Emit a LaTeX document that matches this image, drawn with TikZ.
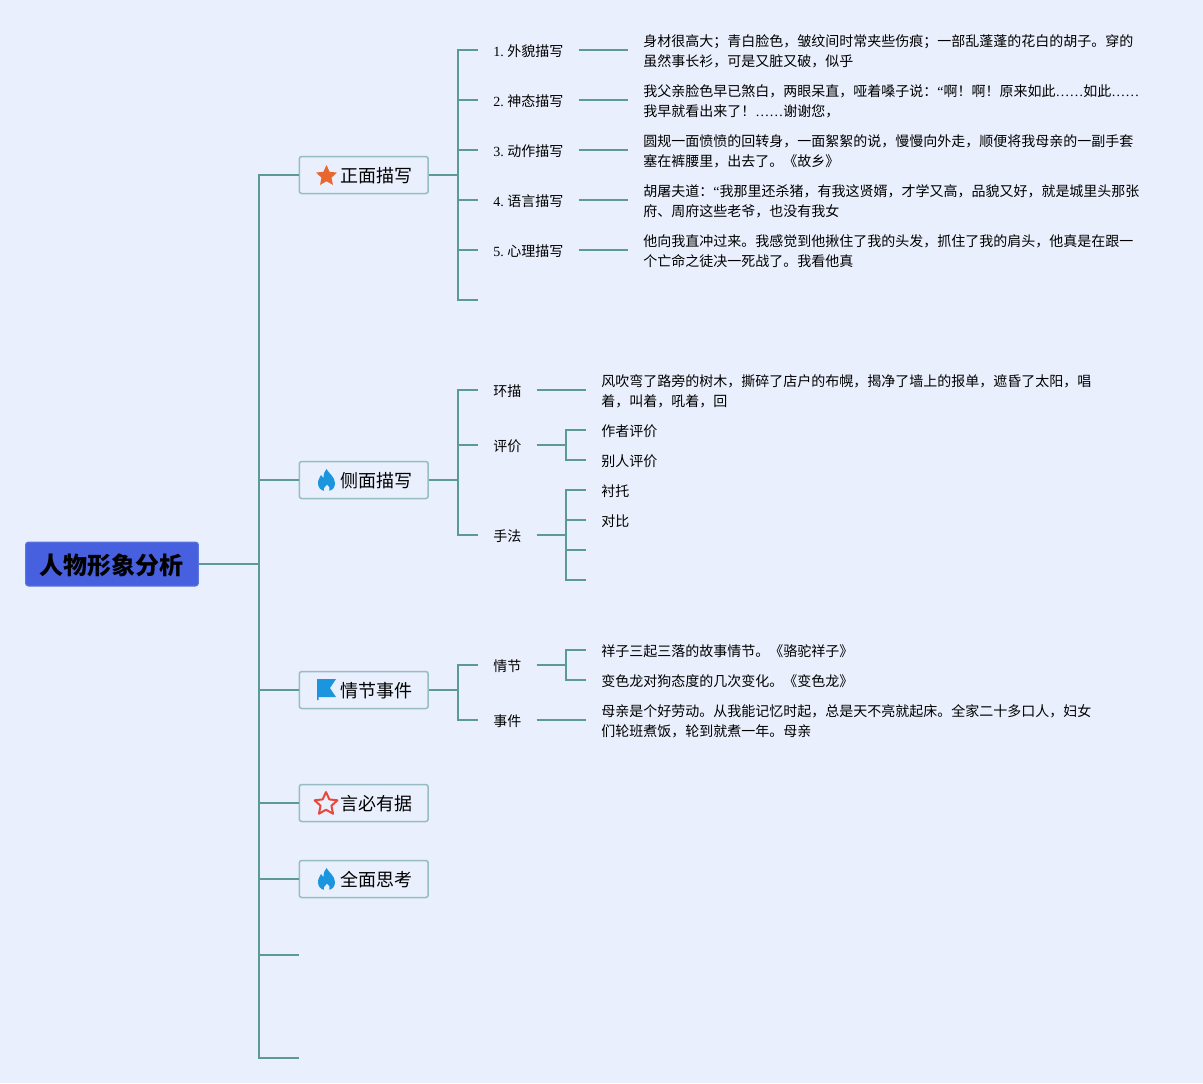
\documentclass[tikz,border=0pt]{standalone}
\usepackage{fontspec}
\setmainfont{Noto Sans CJK SC}
\newfontfamily\tm{Liberation Serif}
\usetikzlibrary{shapes.geometric}
\definecolor{pagebg}{HTML}{E9EFFC}
\definecolor{linkc}{HTML}{5B9A98}
\definecolor{rootc}{HTML}{4760E0}
\definecolor{boxc}{HTML}{96BDC4}
\definecolor{firec}{HTML}{1B95DE}
\definecolor{starc}{HTML}{E8672F}
\definecolor{redc}{HTML}{E8483B}
% flame drawn around a centre point
\newcommand{\flameicon}[1]{\fill[firec,shift={(#1)}]
  (-2.5,10.8) .. controls (-6,10) and (-8.5,7.5) .. (-8.5,3) .. controls (-8.5,-1) and (-6.5,-2) .. (-5.5,-5)
  .. controls (-4.5,-3.5) and (-4,-3) .. (-3,-2) .. controls (-3,-6) and (-2,-9) .. (0,-11)
  .. controls (2,-7) and (8.5,-3) .. (8.5,3) .. controls (8.5,7.5) and (6,10) .. (2.8,10.8)
  .. controls (4,8) and (3,6.5) .. (0.5,4.5) .. controls (-0.5,6.5) and (-4,8) .. (-2.5,10.8) -- cycle;}
\begin{document}
\begin{tikzpicture}[x=0.02cm,y=-0.02cm,
    root/.style = {draw=rootc!75!boxc, line width=0.02cm, fill=rootc, rounded corners=0.06cm, anchor=west, minimum width=3.46cm, minimum height=0.88cm, inner sep=0pt, text height=0.48cm, text depth=0.08cm, font=\fontsize{13.66}{16}\selectfont\bfseries},
    topic/.style = {draw=boxc, line width=0.03cm, rounded corners=0.05cm, anchor=west, text width=1.96cm, align=right, inner xsep=0.31cm, minimum height=0.74cm, inner ysep=0pt, text height=0.36cm, text depth=0.05cm, font=\fontsize{10.24}{12}\selectfont},
    leaf/.style = {anchor=west, align=left, inner xsep=0.3cm, inner ysep=0pt, text height=0.288cm, text depth=0.04cm, font=\fontsize{7.967}{11.38}\selectfont},
    para/.style = {leaf, text height=0.688cm},
    link/.style = {draw=linkc, line width=0.04cm}]
    \fill[pagebg] (0,0) rectangle (1203,1083);
    \useasboundingbox (0,0) rectangle (1203,1083);
    % root and first level
    \node[root] (fenxi) at (25,564) {人物形象分析};
    \node[topic] (zheng) at (298.5,175) {正面描写};
    \node[topic] (ce)    at (298.5,480) {侧面描写};
    \node[topic] (qing)  at (298.5,690) {情节事件};
    \node[topic] (yan)   at (298.5,803) {言必有据};
    \node[topic] (quan)  at (298.5,879) {全面思考};
    \coordinate (root_j)  at (259,564);
    \coordinate (blank_1) at (299,955);
    \coordinate (blank_2) at (299,1058);
    \draw[link] (fenxi.east) -- (root_j);
    \draw[link] (root_j) |- (zheng.west);
    \draw[link] (root_j) |- (ce.west);
    \draw[link] (root_j) |- (qing.west);
    \draw[link] (root_j) |- (yan.west);
    \draw[link] (root_j) |- (quan.west);
    \draw[link] (root_j) |- (blank_1);
    \draw[link] (root_j) |- (blank_2);
    % icons
    \node[star, star points=5, star point ratio=2.1, fill=starc, minimum size=0.44cm, inner sep=0pt] (star_a) at (326.5,176) {};
    \node[star, star points=5, star point ratio=2.1, draw=redc, line width=0.04cm, line join=round, minimum size=0.48cm, inner sep=0pt] (star_b) at (326,804) {};
    \flameicon{326.5,480}
    \flameicon{326.5,879}
    \fill[firec] (317,679) -- (336,679) -- (330,688) -- (336,697) -- (318.5,697) -- (318.5,700) -- (317,700) -- cycle;
    % front description
    \node[leaf] (wai)  at (478,50)  {{\tm 1.\ }外貌描写};
    \node[leaf] (shen) at (478,100) {{\tm 2.\ }神态描写};
    \node[leaf] (dong) at (478,150) {{\tm 3.\ }动作描写};
    \node[leaf] (yu)   at (478,200) {{\tm 4.\ }语言描写};
    \node[leaf] (xin)  at (478,250) {{\tm 5.\ }心理描写};
    \node[para] (wai_t)  at (628,50)  {身材很高大；青白脸色，皱纹间时常夹些伤痕；一部乱蓬蓬的花白的胡子。穿的\\虽然事长衫，可是又脏又破，似乎};
    \node[para] (shen_t) at (628,100) {我父亲脸色早已煞白，两眼呆直，哑着嗓子说：{\tm “}啊！啊！原来如此{\tm ……}如此{\tm ……}\\我早就看出来了！{\tm ……}谢谢您，};
    \node[para] (dong_t) at (628,150) {圆规一面愤愤的回转身，一面絮絮的说，慢慢向外走，顺便将我母亲的一副手套\\塞在裤腰里，出去了。《故乡》};
    \node[para] (yu_t)   at (628,200) {胡屠夫道：{\tm “}我那里还杀猪，有我这贤婿，才学又高，品貌又好，就是城里头那张\\府、周府这些老爷，也没有我女};
    \node[para] (xin_t)  at (628,250) {他向我直冲过来。我感觉到他揪住了我的头发，抓住了我的肩头，他真是在跟一\\个亡命之徒决一死战了。我看他真};
    \coordinate (zheng_j) at (458,175);
    \coordinate (zheng_e) at (478,300);
    \draw[link] (zheng.east) -- (zheng_j);
    \draw[link] (zheng_j) |- (wai.west);
    \draw[link] (zheng_j) |- (shen.west);
    \draw[link] (zheng_j) |- (dong.west);
    \draw[link] (zheng_j) |- (yu.west);
    \draw[link] (zheng_j) |- (xin.west);
    \draw[link] (zheng_j) |- (zheng_e);
    \draw[link] (wai.east)  -- (wai_t.west);
    \draw[link] (shen.east) -- (shen_t.west);
    \draw[link] (dong.east) -- (dong_t.west);
    \draw[link] (yu.east)   -- (yu_t.west);
    \draw[link] (xin.east)  -- (xin_t.west);
    % side description
    \node[leaf] (huan)  at (478,390) {环描};
    \node[leaf] (ping)  at (478,445) {评价};
    \node[leaf] (shou)  at (478,535) {手法};
    \node[para] (huan_t) at (586,390) {风吹弯了路旁的树木，撕碎了店户的布幌，揭净了墙上的报单，遮昏了太阳，唱\\着，叫着，吼着，回};
    \node[leaf] (zuo)   at (586,430) {作者评价};
    \node[leaf] (bie)   at (586,460) {别人评价};
    \node[leaf] (chen)  at (586,490) {衬托};
    \node[leaf] (dui)   at (586,520) {对比};
    \coordinate (shou_c) at (586,550);
    \coordinate (shou_d) at (586,580);
    \coordinate (ce_j)   at (458,480);
    \coordinate (ping_j) at (566,445);
    \coordinate (shou_j) at (566,535);
    \draw[link] (ce.east) -- (ce_j);
    \draw[link] (ce_j) |- (huan.west);
    \draw[link] (ce_j) |- (ping.west);
    \draw[link] (ce_j) |- (shou.west);
    \draw[link] (huan.east) -- (huan_t.west);
    \draw[link] (ping.east) -- (ping_j);
    \draw[link] (ping_j) |- (zuo.west);
    \draw[link] (ping_j) |- (bie.west);
    \draw[link] (shou.east) -- (shou_j);
    \draw[link] (shou_j) |- (chen.west);
    \draw[link] (shou_j) |- (dui.west);
    \draw[link] (shou_j) |- (shou_c);
    \draw[link] (shou_j) |- (shou_d);
    % plot and events
    \node[leaf] (jie)  at (478,665) {情节};
    \node[leaf] (shi)  at (478,720) {事件};
    \node[leaf] (xiang) at (586,650) {祥子三起三落的故事情节。《骆驼祥子》};
    \node[leaf] (bian)  at (586,680) {变色龙对狗态度的几次变化。《变色龙》};
    \node[para] (shi_t) at (586,720) {母亲是个好劳动。从我能记忆时起，总是天不亮就起床。全家二十多口人，妇女\\们轮班煮饭，轮到就煮一年。母亲};
    \coordinate (qing_j) at (458,690);
    \coordinate (jie_j)  at (566,665);
    \draw[link] (qing.east) -- (qing_j);
    \draw[link] (qing_j) |- (jie.west);
    \draw[link] (qing_j) |- (shi.west);
    \draw[link] (jie.east) -- (jie_j);
    \draw[link] (jie_j) |- (xiang.west);
    \draw[link] (jie_j) |- (bian.west);
    \draw[link] (shi.east) -- (shi_t.west);
\end{tikzpicture}
\end{document}
